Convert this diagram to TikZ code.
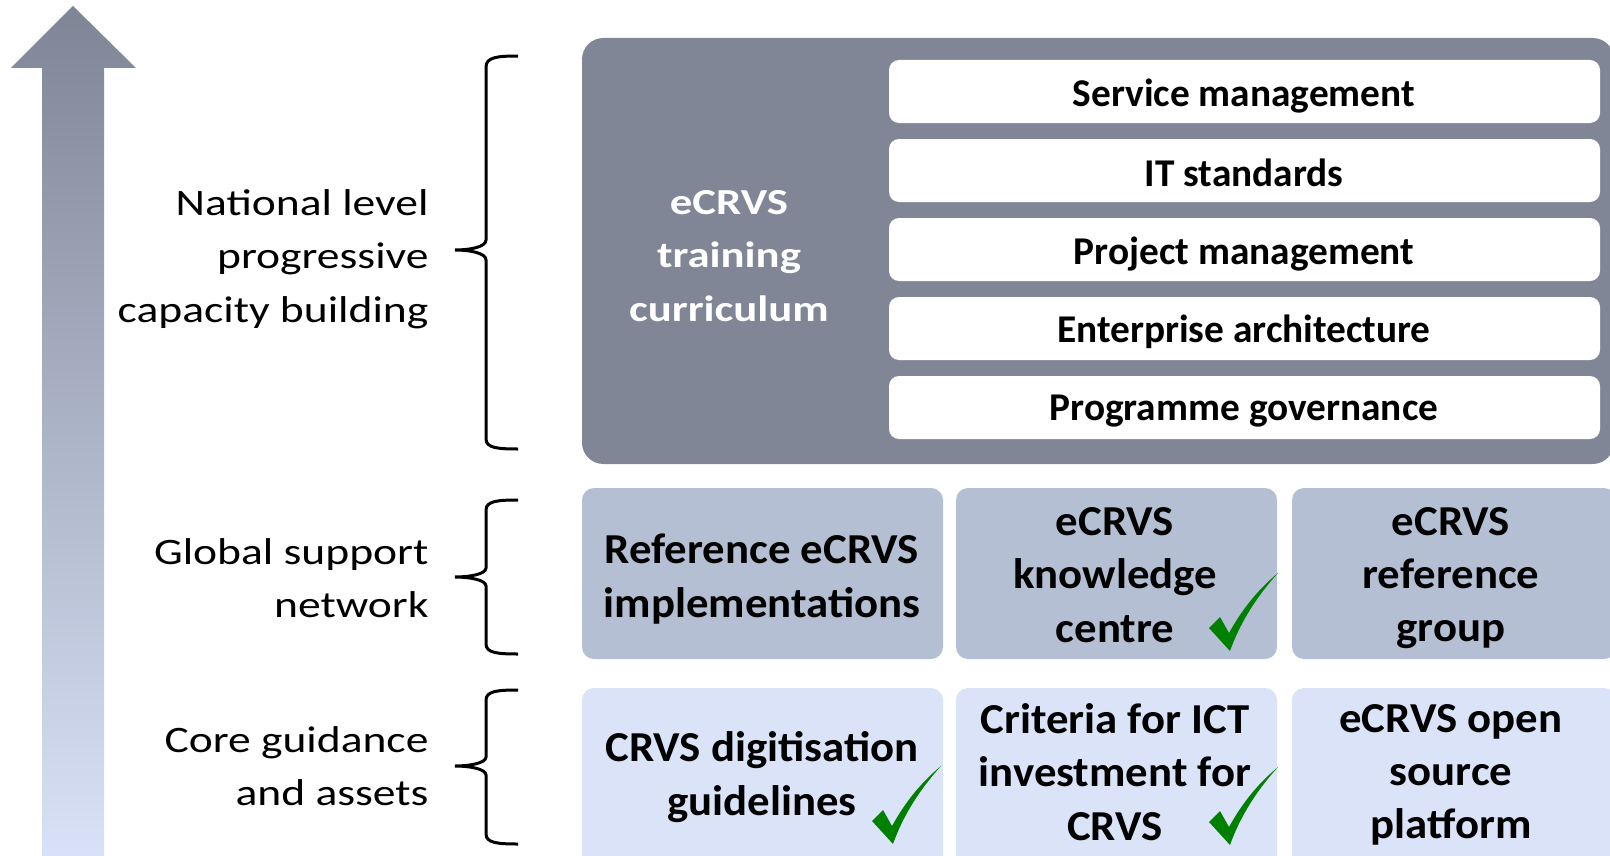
\documentclass[tikz,border=0pt]{standalone}
\usepackage{fontspec}
\setmainfont{Carlito}
\newfontfamily\widefont{Carlito}[FakeStretch=1.22]
\newfontfamily\boxfont{Carlito}[FakeStretch=1.05]

\definecolor{arrowTop}{RGB}{126,133,149}
\definecolor{arrowBot}{RGB}{217,226,248}
\definecolor{slateFill}{RGB}{128,134,150}
\definecolor{midFill}{RGB}{180,191,211}
\definecolor{paleFill}{RGB}{218,227,248}
\definecolor{tickGreen}{RGB}{0,128,0}

\tikzset{every picture/.style={line width=0.75pt}}

\begin{document}
\begin{tikzpicture}[x=0.75pt,y=0.75pt,yscale=-1,xscale=1]
\useasboundingbox (0,0) rectangle (1610,856);
\clip (0,0) rectangle (1610,856);

%Up Arrow
\shade [top color=arrowTop, bottom color=arrowBot] (73,6) -- (136,68) -- (104,68) -- (104,862) -- (42,862) -- (42,68) -- (11,68) -- cycle ;

%Rounded Rect (curriculum)
\draw [draw=none, fill=slateFill, rounded corners=16pt] (582,38) rectangle (1614,464) ;
%Rounded Rect (topics)
\draw [draw=none, fill=white, rounded corners=7.5pt] (889,60) rectangle (1600,123) ;
\draw [draw=none, fill=white, rounded corners=7.5pt] (889,139) rectangle (1600,202) ;
\draw [draw=none, fill=white, rounded corners=7.5pt] (889,218) rectangle (1600,281) ;
\draw [draw=none, fill=white, rounded corners=7.5pt] (889,297) rectangle (1600,360) ;
\draw [draw=none, fill=white, rounded corners=7.5pt] (889,376) rectangle (1600,439) ;

%Rounded Rect (global support row)
\draw [draw=none, fill=midFill, rounded corners=9pt] (582,488) rectangle (943,659) ;
\draw [draw=none, fill=midFill, rounded corners=9pt] (956,488) rectangle (1277,659) ;
\draw [draw=none, fill=midFill, rounded corners=9pt] (1292,488) rectangle (1616,659) ;
%Rounded Rect (core guidance row)
\draw [draw=none, fill=paleFill, rounded corners=9pt] (582,688) rectangle (943,872) ;
\draw [draw=none, fill=paleFill, rounded corners=9pt] (956,688) rectangle (1277,872) ;
\draw [draw=none, fill=paleFill, rounded corners=9pt] (1292,688) rectangle (1616,872) ;

%Brace (national)
\draw [line width=2.25] (518,56) .. controls (498,56) and (486,57) .. (486,67) -- (486,240) .. controls (486,247) and (470,250) .. (455,250) .. controls (470,250) and (486,253) .. (486,260) -- (486,439) .. controls (486,448) and (498,449) .. (518,449) ;
%Brace (global)
\draw [line width=2.25] (518,500) .. controls (498,500) and (486,501) .. (486,510) -- (486,568) .. controls (486,574) and (470,577) .. (455,577) .. controls (470,577) and (486,580) .. (486,586) -- (486,644) .. controls (486,653) and (498,654) .. (518,654) ;
%Brace (core)
\draw [line width=2.25] (518,690) .. controls (498,690) and (486,691) .. (486,700) -- (486,757) .. controls (486,763) and (470,766) .. (455,766) .. controls (470,766) and (486,769) .. (486,775) -- (486,834) .. controls (486,843) and (498,844) .. (518,844) ;

%Tick (knowledge centre)
\draw [draw=none, fill=tickGreen] (1209,628) -- (1220,617) -- (1229,633) .. controls (1244,606) and (1260,588) .. (1278,573) .. controls (1259,594) and (1241,620) .. (1230,651) -- cycle ;
%Tick (digitisation guidelines)
\draw [draw=none, fill=tickGreen] (872,821) -- (883,810) -- (892,826) .. controls (907,799) and (923,781) .. (941,766) .. controls (922,787) and (904,813) .. (893,844) -- cycle ;
%Tick (ICT investment)
\draw [draw=none, fill=tickGreen] (1209,822) -- (1220,811) -- (1229,827) .. controls (1244,800) and (1260,782) .. (1278,767) .. controls (1259,788) and (1241,814) .. (1230,845) -- cycle ;

% Text Node
\draw (429,259) node [anchor=east, inner sep=0, align=right, font=\widefont\fontsize{28}{40}\selectfont] (lblNational) {National level\\progressive\\capacity building};
% Text Node
\draw (429,578) node [anchor=east, inner sep=0, align=right, font=\widefont\fontsize{28}{40}\selectfont] (lblGlobal) {Global support\\network};
% Text Node
\draw (429,766) node [anchor=east, inner sep=0, align=right, font=\widefont\fontsize{28}{40}\selectfont] (lblCore) {Core guidance\\and assets};

% Text Node
\draw (729,256) node [color=white, align=center, font=\widefont\bfseries\fontsize{27.5}{40}\selectfont] (curriculum) {eCRVS\\training\\curriculum};

% Text Node
\draw (1244,96) node [font=\bfseries\fontsize{29.5}{36}\selectfont] (svcMgmt) {Service management};
% Text Node
\draw (1244,173) node [font=\bfseries\fontsize{29.5}{36}\selectfont] (itStd) {IT standards};
% Text Node
\draw (1244,254) node [font=\bfseries\fontsize{29.5}{36}\selectfont] (projMgmt) {Project management};
% Text Node
\draw (1244,332) node [font=\bfseries\fontsize{29.5}{36}\selectfont] (entArch) {Enterprise architecture};
% Text Node
\draw (1244,411) node [font=\bfseries\fontsize{29.5}{36}\selectfont] (progGov) {Programme governance};

% Text Node
\draw (762,579) node [align=center, font=\boxfont\bfseries\fontsize{32}{40}\selectfont] (refImpl) {Reference eCRVS\\implementations};
% Text Node
\draw (1115,575) node [align=center, font=\boxfont\bfseries\fontsize{32}{40}\selectfont] (knowCentre) {eCRVS\\knowledge\\centre};
% Text Node
\draw (1451,578) node [align=center, font=\boxfont\bfseries\fontsize{32}{40}\selectfont] (refGroup) {eCRVS\\reference\\group};
% Text Node
\draw (762,777) node [align=center, font=\boxfont\bfseries\fontsize{32}{40}\selectfont] (digGuide) {CRVS digitisation\\guidelines};
% Text Node
\draw (1115,772) node [align=center, font=\boxfont\bfseries\fontsize{32}{40}\selectfont] (ictCrit) {Criteria for ICT\\investment for\\CRVS};
% Text Node
\draw (1451,775) node [align=center, font=\boxfont\bfseries\fontsize{32}{40}\selectfont] (openSrc) {eCRVS open\\source\\platform};

\end{tikzpicture}
\end{document}
